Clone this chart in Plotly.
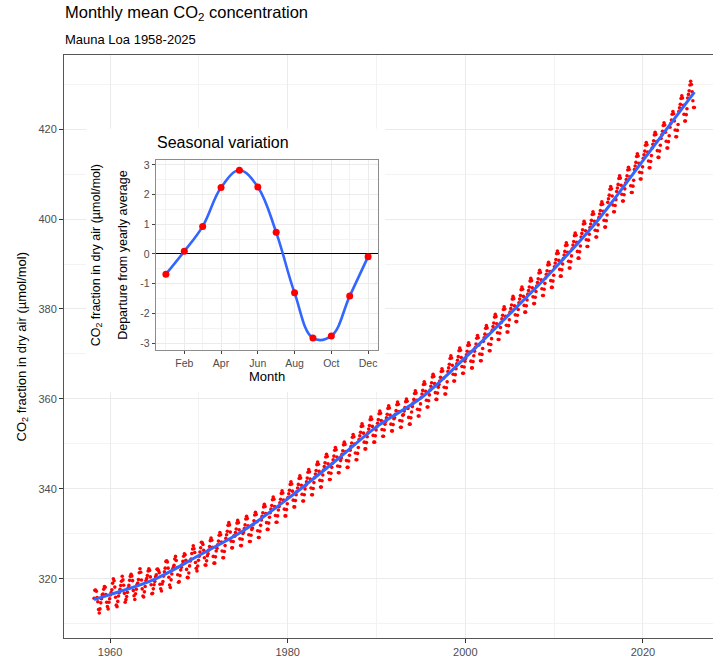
import plotly.graph_objects as go

# ---------------- data ----------------
# Monthly mean CO2 (ppm), Mauna Loa, starting March 1958 (one row per year)
start_year, start_month = 1958, 3
co2_monthly = [
    315.70, 317.45, 317.51, 317.24, 315.86, 314.93, 313.20, 312.43, 313.33, 314.67,  # 1958 (Mar-Dec)
    315.58, 316.49, 316.65, 317.72, 318.29, 318.15, 316.54, 314.80, 313.84, 313.33, 314.81, 315.58,  # 1959
    316.43, 316.97, 317.58, 319.02, 320.03, 319.59, 318.18, 315.91, 314.16, 313.83, 315.00, 316.19,  # 1960
    316.93, 317.70, 318.54, 319.48, 320.58, 319.77, 318.57, 316.79, 314.80, 315.38, 316.10, 317.01,  # 1961
    317.94, 318.55, 319.68, 320.57, 321.02, 320.62, 319.61, 317.40, 316.25, 315.42, 316.69, 317.70,  # 1962
    318.74, 319.07, 319.86, 321.38, 322.25, 321.48, 319.74, 317.77, 316.21, 315.99, 317.12, 318.31,  # 1963
    319.57, 320.07, 320.73, 321.77, 322.25, 321.89, 320.44, 318.70, 316.70, 316.79, 317.79, 318.71,  # 1964
    319.44, 320.44, 320.89, 322.13, 322.16, 321.87, 321.39, 318.81, 317.81, 317.30, 318.87, 319.42,  # 1965
    320.62, 321.59, 322.39, 323.87, 324.01, 323.75, 322.39, 320.37, 318.64, 318.10, 319.79, 321.08,  # 1966
    322.07, 322.50, 323.04, 324.42, 325.00, 324.09, 322.54, 320.92, 319.25, 319.39, 320.73, 321.96,  # 1967
    322.57, 323.15, 323.89, 325.02, 325.57, 325.36, 324.14, 322.11, 320.33, 320.25, 321.32, 322.89,  # 1968
    324.00, 324.42, 325.63, 326.66, 327.38, 326.71, 325.88, 323.66, 322.38, 321.78, 322.85, 324.12,  # 1969
    325.06, 325.98, 326.93, 328.13, 328.08, 327.67, 326.34, 324.69, 323.10, 323.06, 324.01, 325.13,  # 1970
    325.6, 326.4, 327.2, 328.5, 329.1, 328.6, 327.0, 325.0, 323.5, 323.5, 324.9, 326.2,  # 1971
    326.8, 327.6, 328.4, 329.7, 330.3, 329.8, 328.2, 326.2, 324.7, 324.7, 326.1, 327.4,  # 1972
    329.0, 329.8, 330.6, 331.9, 332.5, 332.0, 330.4, 328.4, 326.9, 326.9, 328.3, 329.6,  # 1973
    329.5, 330.3, 331.1, 332.4, 333.0, 332.5, 330.9, 328.9, 327.4, 327.4, 328.8, 330.1,  # 1974
    330.4, 331.2, 332.0, 333.3, 333.9, 333.4, 331.8, 329.8, 328.3, 328.3, 329.7, 331.0,  # 1975
    331.3, 332.1, 332.9, 334.2, 334.8, 334.3, 332.7, 330.7, 329.2, 329.2, 330.6, 331.9,  # 1976
    333.1, 333.9, 334.7, 336.0, 336.6, 336.1, 334.5, 332.5, 331.0, 331.0, 332.4, 333.7,  # 1977
    334.7, 335.5, 336.3, 337.6, 338.2, 337.7, 336.1, 334.1, 332.6, 332.6, 334.0, 335.3,  # 1978
    336.1, 336.9, 337.7, 339.0, 339.6, 339.1, 337.5, 335.5, 334.0, 334.0, 335.4, 336.7,  # 1979
    338.1, 338.9, 339.7, 341.0, 341.6, 341.1, 339.5, 337.5, 336.0, 336.0, 337.4, 338.7,  # 1980
    339.4, 340.2, 341.0, 342.3, 342.9, 342.4, 340.8, 338.8, 337.3, 337.3, 338.7, 340.0,  # 1981
    340.8, 341.6, 342.4, 343.7, 344.3, 343.8, 342.2, 340.2, 338.7, 338.7, 340.1, 341.4,  # 1982
    342.5, 343.3, 344.1, 345.4, 346.0, 345.5, 343.9, 341.9, 340.4, 340.4, 341.8, 343.1,  # 1983
    344.2, 345.0, 345.8, 347.1, 347.7, 347.2, 345.6, 343.6, 342.1, 342.1, 343.5, 344.8,  # 1984
    345.7, 346.5, 347.3, 348.6, 349.2, 348.7, 347.1, 345.1, 343.6, 343.6, 345.0, 346.3,  # 1985
    346.9, 347.7, 348.5, 349.8, 350.4, 349.9, 348.3, 346.3, 344.8, 344.8, 346.2, 347.5,  # 1986
    348.6, 349.4, 350.2, 351.5, 352.1, 351.6, 350.0, 348.0, 346.5, 346.5, 347.9, 349.2,  # 1987
    351.0, 351.8, 352.6, 353.9, 354.5, 354.0, 352.4, 350.4, 348.9, 348.9, 350.3, 351.6,  # 1988
    352.5, 353.3, 354.1, 355.4, 356.0, 355.5, 353.9, 351.9, 350.4, 350.4, 351.8, 353.1,  # 1989
    353.8, 354.6, 355.4, 356.7, 357.3, 356.8, 355.2, 353.2, 351.7, 351.7, 353.1, 354.4,  # 1990
    355.0, 355.8, 356.6, 357.9, 358.5, 358.0, 356.4, 354.4, 352.9, 352.9, 354.3, 355.6,  # 1991
    355.8, 356.6, 357.4, 358.7, 359.3, 358.8, 357.2, 355.2, 353.7, 353.7, 355.1, 356.4,  # 1992
    356.5, 357.3, 358.1, 359.4, 360.0, 359.5, 357.9, 355.9, 354.4, 354.4, 355.8, 357.1,  # 1993
    358.3, 359.1, 359.9, 361.2, 361.8, 361.3, 359.7, 357.7, 356.2, 356.2, 357.6, 358.9,  # 1994
    360.3, 361.1, 361.9, 363.2, 363.8, 363.3, 361.7, 359.7, 358.2, 358.2, 359.6, 360.9,  # 1995
    362.0, 362.8, 363.6, 364.9, 365.5, 365.0, 363.4, 361.4, 359.9, 359.9, 361.3, 362.6,  # 1996
    363.2, 364.0, 364.8, 366.1, 366.7, 366.2, 364.6, 362.6, 361.1, 361.1, 362.5, 363.8,  # 1997
    366.1, 366.9, 367.7, 369.0, 369.6, 369.1, 367.5, 365.5, 364.0, 364.0, 365.4, 366.7,  # 1998
    367.8, 368.6, 369.4, 370.7, 371.3, 370.8, 369.2, 367.2, 365.7, 365.7, 367.1, 368.4,  # 1999
    369.0, 369.8, 370.6, 371.9, 372.5, 372.0, 370.4, 368.4, 366.9, 366.9, 368.3, 369.6,  # 2000
    370.6, 371.4, 372.2, 373.5, 374.1, 373.6, 372.0, 370.0, 368.5, 368.5, 369.9, 371.2,  # 2001
    372.8, 373.6, 374.4, 375.7, 376.3, 375.8, 374.2, 372.2, 370.7, 370.7, 372.1, 373.4,  # 2002
    375.3, 376.1, 376.9, 378.2, 378.8, 378.3, 376.7, 374.7, 373.2, 373.2, 374.6, 375.9,  # 2003
    377.0, 377.8, 378.6, 379.9, 380.5, 380.0, 378.4, 376.4, 374.9, 374.9, 376.3, 377.6,  # 2004
    379.3, 380.1, 380.9, 382.2, 382.8, 382.3, 380.7, 378.7, 377.2, 377.2, 378.6, 379.9,  # 2005
    381.4, 382.2, 383.0, 384.3, 384.9, 384.4, 382.8, 380.8, 379.3, 379.3, 380.7, 382.0,  # 2006
    383.3, 384.1, 384.9, 386.2, 386.8, 386.3, 384.7, 382.7, 381.2, 381.2, 382.6, 383.9,  # 2007
    385.1, 385.9, 386.7, 388.0, 388.6, 388.1, 386.5, 384.5, 383.0, 383.0, 384.4, 385.7,  # 2008
    386.9, 387.7, 388.5, 389.8, 390.4, 389.9, 388.3, 386.3, 384.8, 384.8, 386.2, 387.5,  # 2009
    389.4, 390.2, 391.0, 392.3, 392.9, 392.4, 390.8, 388.8, 387.3, 387.3, 388.7, 390.0,  # 2010
    391.2, 392.0, 392.8, 394.1, 394.7, 394.2, 392.6, 390.6, 389.1, 389.1, 390.5, 391.8,  # 2011
    393.4, 394.2, 395.0, 396.3, 396.9, 396.4, 394.8, 392.8, 391.3, 391.3, 392.7, 394.0,  # 2012
    396.0, 396.8, 397.6, 398.9, 399.5, 399.0, 397.4, 395.4, 393.9, 393.9, 395.3, 396.6,  # 2013
    398.1, 398.9, 399.7, 401.0, 401.6, 401.1, 399.5, 397.5, 396.0, 396.0, 397.4, 398.7,  # 2014
    400.3, 401.1, 401.9, 403.2, 403.8, 403.3, 401.7, 399.7, 398.2, 398.2, 399.6, 400.9,  # 2015
    403.7, 404.5, 405.3, 406.6, 407.2, 406.7, 405.1, 403.1, 401.6, 401.6, 403.0, 404.3,  # 2016
    406.1, 406.9, 407.7, 409.0, 409.6, 409.1, 407.5, 405.5, 404.0, 404.0, 405.4, 406.7,  # 2017
    408.0, 408.8, 409.6, 410.9, 411.5, 411.0, 409.4, 407.4, 405.9, 405.9, 407.3, 408.6,  # 2018
    411.0, 411.8, 412.6, 413.9, 414.5, 414.0, 412.4, 410.4, 408.9, 408.9, 410.3, 411.6,  # 2019
    413.5, 414.3, 415.1, 416.4, 417.0, 416.5, 414.9, 412.9, 411.4, 411.4, 412.8, 414.1,  # 2020
    415.8, 416.6, 417.4, 418.7, 419.3, 418.8, 417.2, 415.2, 413.7, 413.7, 415.1, 416.4,  # 2021
    417.9, 418.7, 419.5, 420.8, 421.4, 420.9, 419.3, 417.3, 415.8, 415.8, 417.2, 418.5,  # 2022
    420.4, 421.2, 422.0, 423.3, 423.9, 423.4, 421.8, 419.8, 418.3, 418.3, 419.7, 421.0,  # 2023
    423.9, 424.7, 425.5, 426.8, 427.4, 426.9, 425.3, 423.3, 421.8, 421.8, 423.2, 424.5,  # 2024
    426.9, 427.7, 428.5, 429.8, 430.6, 429.9, 428.3, 426.3, 424.8, 424.8,  # 2025 (Jan-Oct)
]
# time index of each monthly value (mid-month, decimal year)
month_time = [start_year + (start_month - 1 + i + 0.5) / 12 for i in range(len(co2_monthly))]

# smoothed trend (blue line)
trend_year = [1958.2, 1960, 1965, 1970, 1975, 1980, 1985, 1990, 1995,
              2000, 2005, 2010, 2015, 2020, 2025.8]
trend_ppm = [315.4, 316.5, 319.9, 325.2, 330.7, 337.8, 345.6, 353.8, 360.2,
             369.2, 378.9, 388.9, 399.9, 413.0, 428.2]

# inset: seasonal departure from yearly average
season_month = [1, 2, 3, 4, 5, 6, 7, 8, 9, 10, 11, 12]
season_departure = [-0.68, 0.09, 0.93, 2.24, 2.82, 2.26, 0.73, -1.31, -2.83, -2.76, -1.42, -0.09]
season_tick_vals = [2, 4, 6, 8, 10, 12]
season_tick_text = ["Feb", "Apr", "Jun", "Aug", "Oct", "Dec"]

main_x_ticks = [1960, 1980, 2000, 2020]
main_y_ticks = [320, 340, 360, 380, 400, 420]

# ---------------- figure ----------------
FONT = "Liberation Sans, Arial, sans-serif"
GRID = "#EBEBEB"
MINOR = "#F3F3F3"
TICKC = "#4D4D4D"

fig = go.Figure()

# main monthly points
fig.add_trace(go.Scatter(
    x=month_time, y=co2_monthly, mode="markers",
    marker=dict(color="#FF0000", size=3.6, line=dict(width=0)),
    xaxis="x", yaxis="y", showlegend=False, hoverinfo="skip"))
# smoothed trend
fig.add_trace(go.Scatter(
    x=trend_year, y=trend_ppm, mode="lines",
    line=dict(color="#3366FF", width=3, shape="spline", smoothing=1.0),
    xaxis="x", yaxis="y", showlegend=False, hoverinfo="skip"))

# empty subplot acting as the white inset background
fig.add_trace(go.Scatter(x=[None], y=[None], mode="markers",
                         xaxis="x2", yaxis="y2", showlegend=False, hoverinfo="skip"))

# inset
fig.add_trace(go.Scatter(
    x=season_month, y=season_departure, mode="lines",
    line=dict(color="#3366FF", width=2.6, shape="spline", smoothing=1.1),
    xaxis="x3", yaxis="y3", showlegend=False, hoverinfo="skip"))
fig.add_trace(go.Scatter(
    x=season_month, y=season_departure, mode="markers",
    marker=dict(color="#FF0000", size=7, line=dict(width=0)),
    xaxis="x3", yaxis="y3", showlegend=False, hoverinfo="skip"))

W, H = 713, 658
ml, mr, mt, mb = 64, 0, 55, 18
pw, ph = W - ml - mr, H - mt - mb

def px_x(p):
    return (p - ml) / pw

def px_y(p):
    return (H - mb - p) / ph

fig.update_layout(
    width=W, height=H,
    margin=dict(l=ml, r=mr, t=mt, b=mb, pad=0),
    paper_bgcolor="white", plot_bgcolor="white",
    font=dict(family=FONT, color="black"),
    showlegend=False,
    xaxis=dict(
        domain=[0, 1], range=[1954.82, 2027.89],
        tickmode="array", tickvals=main_x_ticks, ticktext=[str(v) for v in main_x_ticks],
        showgrid=True, gridcolor=GRID, gridwidth=1,
        minor=dict(tickvals=[1950, 1970, 1990, 2010], showgrid=True, gridcolor=MINOR, gridwidth=1),
        showline=True, linecolor="#555555", linewidth=1, mirror=True,
        ticks="outside", ticklen=4, tickcolor="#333333", tickwidth=1,
        tickfont=dict(size=11, color=TICKC, family=FONT),
        zeroline=False, anchor="y"),
    yaxis=dict(
        domain=[0, 1], range=[306.86, 436.46],
        tickmode="array", tickvals=main_y_ticks, ticktext=[str(v) for v in main_y_ticks],
        showgrid=True, gridcolor=GRID, gridwidth=1,
        minor=dict(tickvals=[310, 330, 350, 370, 390, 410, 430], showgrid=True,
                   gridcolor=MINOR, gridwidth=1),
        showline=True, linecolor="#555555", linewidth=1, mirror=False,
        ticks="outside", ticklen=4, tickcolor="#333333", tickwidth=1,
        tickfont=dict(size=11, color=TICKC, family=FONT),
        zeroline=False, anchor="x"),
    # white cover behind the inset
    xaxis2=dict(domain=[px_x(86), px_x(385)], visible=False, range=[0, 1], anchor="y2"),
    yaxis2=dict(domain=[px_y(393), px_y(129)], visible=False, range=[0, 1], anchor="x2"),
    # inset axes
    xaxis3=dict(
        domain=[px_x(155.7), px_x(378)], range=[0.445, 12.54],
        tickmode="array", tickvals=season_tick_vals, ticktext=season_tick_text,
        showgrid=True, gridcolor=GRID, gridwidth=1,
        minor=dict(tickvals=[1, 3, 5, 7, 9, 11], showgrid=True, gridcolor=MINOR, gridwidth=1),
        showline=True, linecolor="#8C8C8C", linewidth=1, mirror=True,
        ticks="outside", ticklen=3, tickcolor="#444444", tickwidth=1,
        tickfont=dict(size=10.5, color=TICKC, family=FONT),
        zeroline=False, anchor="y3"),
    yaxis3=dict(
        domain=[px_y(351), px_y(160.7)], range=[-3.235, 3.155],
        tickmode="array", tickvals=[-3, -2, -1, 0, 1, 2, 3],
        ticktext=["-3", "-2", "-1", "0", "1", "2", "3"],
        showgrid=True, gridcolor=GRID, gridwidth=1,
        minor=dict(tickvals=[-2.5, -1.5, -0.5, 0.5, 1.5, 2.5], showgrid=True,
                   gridcolor=MINOR, gridwidth=1),
        showline=True, linecolor="#8C8C8C", linewidth=1, mirror=True,
        ticks="outside", ticklen=3, tickcolor="#444444", tickwidth=1,
        tickfont=dict(size=10.5, color=TICKC, family=FONT),
        zeroline=True, zerolinecolor="black", zerolinewidth=1.3,
        anchor="x3"),
)

annos = [
    dict(text="Monthly mean CO<sub>2</sub> concentration", x=px_x(63), y=px_y(13),
         xanchor="left", yanchor="middle", font=dict(size=16.5, color="black")),
    dict(text="Mauna Loa 1958-2025", x=px_x(63), y=px_y(39),
         xanchor="left", yanchor="middle", font=dict(size=13, color="black")),
    dict(text="CO<sub>2</sub> fraction in dry air (µmol/mol)", x=px_x(22), y=0.5,
         xanchor="center", yanchor="middle", textangle=-90, font=dict(size=13, color="black")),
    dict(text="Seasonal variation", x=px_x(154.5), y=px_y(143),
         xanchor="left", yanchor="middle", font=dict(size=16, color="black")),
    dict(text="CO<sub>2</sub> fraction in dry air (µmol/mol)", x=px_x(97), y=px_y(256),
         xanchor="center", yanchor="middle", textangle=-90, font=dict(size=12.5, color="black")),
    dict(text="Departure from yearly average", x=px_x(123.5), y=px_y(256),
         xanchor="center", yanchor="middle", textangle=-90, font=dict(size=12.5, color="black")),
    dict(text="Month", x=px_x(266.8), y=px_y(378),
         xanchor="center", yanchor="middle", font=dict(size=13, color="black")),
]
for a in annos:
    a.update(xref="paper", yref="paper", showarrow=False)
fig.update_layout(annotations=annos)

fig.write_html("out.html")
